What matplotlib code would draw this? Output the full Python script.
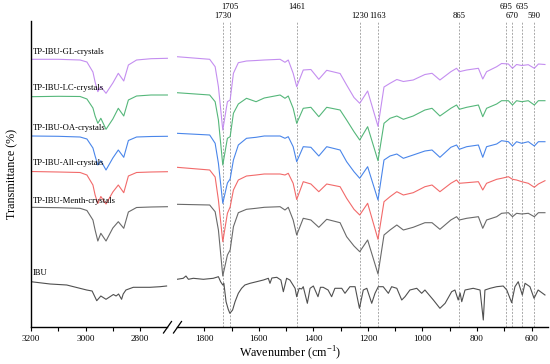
#FTIR spectra of TP-IBU crystals vs IBU, broken wavenumber axis.
import matplotlib
matplotlib.use('Agg')
import matplotlib.pyplot as plt
from matplotlib.lines import Line2D

plt.rcParams['font.family'] = ['Liberation Serif', 'DejaVu Serif']
plt.rcParams['mathtext.fontset'] = 'custom'
plt.rcParams['mathtext.rm'] = 'Liberation Serif'

# wavenumber grids (cm-1) shared by the crystal spectra
wn_left = [3200, 3100, 3020, 2995, 2973, 2965, 2955, 2944, 2925, 2900, 2880, 2860, 2843, 2813, 2760, 2700]
wn_right = [1900, 1780, 1760, 1748, 1732, 1715, 1705, 1693, 1675, 1645, 1610, 1580, 1522, 1504, 1492,
            1474, 1461, 1437, 1409, 1380, 1351, 1302, 1278, 1251, 1230, 1201, 1163, 1141, 1119, 1094,
            1070, 1034, 991, 965, 936, 896, 875, 865, 838, 795, 779, 765, 728, 710, 685, 670, 655,
            636, 612, 590, 575, 551]

# transmittance (a.u., stacked)
gl_left = [267.7, 267.7, 267, 265, 255, 245, 235.3, 240.3, 233.7, 244, 253.7, 246, 262, 267, 268.3, 268.7]
gl_right = [270.3, 267.7, 260.3, 240.3, 197, 225.3, 227, 253.7, 264.3, 266, 266.5, 267, 267.7, 264.7, 267,
            253.7, 240.3, 257, 257.5, 247.7, 256.7, 253.5, 242, 229.5, 223.7, 236, 200.7, 240, 243.7, 247.5,
            245.5, 247, 252.5, 253.7, 247, 255.3, 258.7, 255.3, 257, 258.7, 248, 255.3, 260.3, 263.5, 263,
            258.7, 262.5, 261.5, 262.3, 258.7, 263, 262.5]

lc_left = [230.3, 230.7, 230.5, 228, 219, 211, 203.7, 208.7, 197.7, 208, 218.7, 211, 227, 231, 232, 232]
lc_right = [234.3, 232, 225.3, 207, 162, 188.7, 190.3, 213.7, 223, 228.7, 225.3, 229, 232, 228.7, 231,
            218.7, 203.7, 218.7, 219.7, 210.3, 219.7, 217, 207, 195.3, 187, 200.3, 166.3, 203.7, 208.7, 211,
            207.7, 211, 217, 218.7, 211, 218.7, 222, 217.7, 219.7, 222, 210.3, 218.7, 223, 226.3, 226.3,
            222, 226.3, 225.3, 226.3, 222, 226.3, 226.3]

oa_left = [191, 190.7, 190, 188, 179, 171, 162, 166.3, 157, 169, 177, 169.7, 186.5, 190, 190.5, 190.7]
oa_right = [193.7, 192, 183.7, 163.7, 123.7, 144, 148, 167, 182, 188.7, 189.7, 191, 191, 188.7, 190.3,
            180.3, 165.3, 180.3, 179.7, 171, 180.3, 177, 165.3, 155.3, 148.7, 160.3, 127, 167, 171, 173,
            168.7, 172, 176, 177, 169.7, 179.7, 182, 177.7, 180.3, 182, 169.7, 180.3, 183, 186.3, 185.3,
            181, 185.3, 183.7, 185.3, 181, 185.3, 185.3]

all_left = [155.5, 155, 154.5, 152, 142, 132, 123.5, 130.5, 123, 135, 142, 134.3, 151, 154.5, 155, 155.3]
all_right = [159.7, 157, 150, 127, 85.3, 113.7, 120, 137, 147, 151, 152, 153, 153, 152, 153.7,
             143.7, 127.5, 145.3, 143, 135.3, 143, 140.3, 128.7, 117.7, 112, 123.7, 87.7, 125.3, 130.3, 135.3,
             132, 134.3, 140.3, 142, 135.3, 143.7, 147, 143.7, 144.3, 145.3, 137, 143.7, 147.7, 148.7, 150.3,
             147.7, 147, 145.3, 143.7, 139.7, 143, 146.3]

menth_left = [119.7, 119.3, 118.7, 116.5, 107, 97, 86, 93.7, 86, 99, 105.3, 98.7, 115, 119.5, 120, 120.3]
menth_right = [122.7, 122, 115.3, 97, 51, 72, 77, 100.3, 114.3, 117.7, 118.7, 119.7, 120.3, 117, 119.7,
               107, 92, 108.7, 107, 99.7, 107.7, 104.3, 90.3, 81, 75.3, 87, 53, 92, 97, 102,
               97, 99.7, 104.3, 104.3, 97.7, 107, 110.3, 107, 108.7, 110.3, 98.7, 107, 110.3, 113.7, 114.3,
               110.3, 113.7, 113, 113.7, 110.3, 114.3, 114.3]

# IBU has its own (denser) sampling
ibu_wn_left = [3200, 3130, 3069, 2996, 2976, 2959, 2944, 2925, 2898, 2888, 2879, 2868, 2862, 2852, 2825,
               2764, 2727, 2703]
ibu_left = [45.3, 43, 42, 37, 36, 26.3, 31, 27.7, 32.5, 31, 33, 27.7, 33, 37, 39.7, 39.7, 40.3, 41]
ibu_wn_right = [1900, 1877, 1867, 1858, 1840, 1803, 1767, 1748, 1740, 1732, 1728, 1720, 1712, 1706, 1696,
                1687, 1675, 1663, 1651, 1632, 1608, 1583, 1565, 1559, 1552, 1534, 1519, 1510, 1498, 1486,
                1467, 1461, 1452, 1443, 1437, 1422, 1412, 1400, 1383, 1374, 1364, 1346, 1333, 1321, 1296,
                1284, 1266, 1247, 1231, 1217, 1204, 1186, 1174, 1162, 1144, 1125, 1113, 1094, 1076, 1064,
                1046, 1021, 1003, 991, 960, 936, 917, 893, 881, 869, 862, 856, 844, 814, 789,
                777, 771, 752, 728, 704, 691, 673, 661, 649, 634, 624, 606, 591, 576, 551]
ibu_right = [47.7, 48.7, 51, 47.7, 48.7, 47.7, 48.7, 50.3, 45.3, 42, 43.7, 25.3, 17.7, 13.7, 17,
             25.3, 33.7, 38.7, 42, 43.7, 45.3, 47, 48.7, 43.7, 49, 49.7, 47, 35.3, 48.7, 47,
             38.7, 30.3, 38.7, 38, 40.3, 23.7, 38.7, 41, 30.3, 39.7, 39.7, 37, 30.3, 38.7, 38.7,
             33.7, 40.3, 40.3, 18.7, 37, 38.7, 23.7, 33.7, 40.3, 40.3, 33.7, 40.3, 38.7, 27, 30.3,
             37, 38.7, 33.7, 37, 27, 18.7, 23.7, 35.3, 37, 27, 34, 25.3, 37, 38.7, 37,
             7, 37, 38.7, 40.3, 41, 37, 24.3, 40.3, 45.3, 32, 43.7, 40.3, 28.7, 37, 32]

names = ['TP-IBU-GL-crystals', 'TP-IBU-LC-crystals', 'TP-IBU-OA-crystals',
         'TP-IBU-All-crystals', 'TP-IBU-Menth-crystals', 'IBU']
name_heights = [274.7, 238.7, 198.7, 163.7, 126.3, 54.3]
colors = ['#c48ef0', '#55b77a', '#4a86ea', '#f26a6a', '#6a6a6a', '#505050']

peaks = [1730, 1705, 1461, 1230, 1163, 865, 695, 670, 635, 590]
peak_high = [False, True, True, False, False, False, True, False, True, False]

fig = plt.figure(figsize=(5.5, 3.64), dpi=100)
W, H = 550.0, 364.0
ax1 = fig.add_axes([31 / W, 37 / H, (167.5 - 31) / W, 306 / H])
ax2 = fig.add_axes([176.5 / W, 37 / H, (548 - 176.5) / W, 306 / H])

lefts = [gl_left, lc_left, oa_left, all_left, menth_left]
rights = [gl_right, lc_right, oa_right, all_right, menth_right]
for i in range(5):
    ax1.plot(wn_left, lefts[i], color=colors[i], lw=0.8)
    ax2.plot(wn_right, rights[i], color=colors[i], lw=0.8)
ax1.plot(ibu_wn_left, ibu_left, color=colors[5], lw=0.8)
ax2.plot(ibu_wn_right, ibu_right, color=colors[5], lw=0.8)

ax1.set_xlim(3200, 3200 - 136.5 / 0.2728)
ax2.set_xlim(2435 - 145.5 / 0.2728, 2435 - 517 / 0.2728)
for ax in (ax1, ax2):
    ax.set_ylim(0, 306)
    ax.spines['top'].set_visible(False)
    ax.spines['right'].set_visible(False)
    ax.spines['bottom'].set_linewidth(1.0)
    ax.spines['left'].set_linewidth(1.0)
    ax.set_yticks([])
    ax.tick_params(axis='x', which='both', direction='out', length=3, width=0.8, labelsize=6.6, pad=2.5)
    ax.patch.set_visible(False)
ax2.spines['left'].set_visible(False)

ax1.set_xticks([3200, 3000, 2800])
ax1.set_xticks([3100, 2900], minor=True)
ax2.set_xticks([1800, 1600, 1400, 1200, 1000, 800, 600])
ax2.set_xticks([1700, 1500, 1300, 1100, 900, 700], minor=True)

for i in range(6):
    ax1.text(3193, name_heights[i], names[i], fontsize=6.2, va='center', ha='left')

trans = ax2.get_xaxis_transform()
for p, hi in zip(peaks, peak_high):
    ax2.axvline(p, color='#a8a8a8', lw=0.7, ls=(0, (2, 1.5)), zorder=0)
    ax2.text(p, 1.0448 if hi else 1.0173, str(p), transform=trans, fontsize=6.2,
             ha='center', va='center')

ax1.set_ylabel('Transmittance (%)', fontsize=8.7, labelpad=9)
fig.text(290 / W, 1 - 353.5 / H, 'Wavenumber (cm$^{-1}$)', fontsize=8.7, ha='center', va='center')

# axis break marks
for xc in (167.5, 177.5):
    fig.add_artist(Line2D([(xc - 4) / W, (xc + 4) / W], [1 - 333 / H, 1 - 321.5 / H],
                          transform=fig.transFigure, color='black', lw=0.9))

plt.savefig('out.png', dpi=100)
